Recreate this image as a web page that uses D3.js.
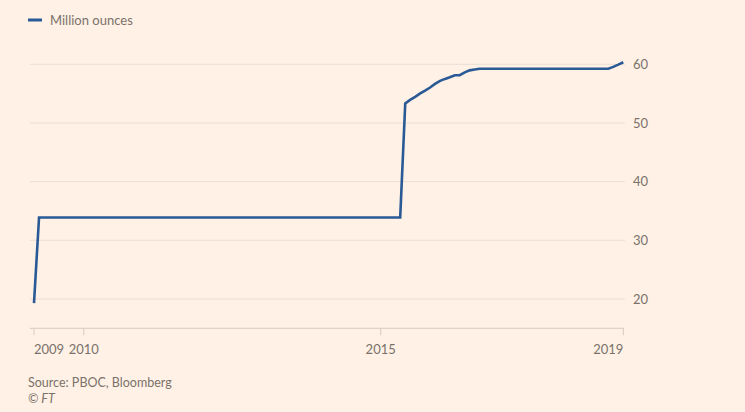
<!DOCTYPE html>
<html lang="en">
<head>
    <meta charset="UTF-8">
    <title>PBOC gold reserves</title>
    <script src="https://d3js.org/d3.v7.min.js"></script>
    <style>
        body { margin: 0; background: #fff1e5; }
        svg { display: block; }
        text { font-family: Lato, sans-serif; fill: #7a716b; }
        .grid line { stroke: #eadfd5; stroke-width: 1px; }
        .xaxis line { stroke: #d8ccc1; stroke-width: 1px; }
        .series { fill: none; stroke: #2a5a96; stroke-width: 2.6px; stroke-linejoin: miter; }
    </style>
</head>
<body>
    <div id="chart"></div>

    <script>
        // monthly points where the reserve changed (flat stretches only by their ends)
        const months = ["2009-03", "2009-04", "2015-05", "2015-06", "2015-07", "2015-08", "2015-09",
            "2015-10", "2015-11", "2015-12", "2016-01", "2016-02", "2016-03", "2016-04", "2016-05",
            "2016-06", "2016-07", "2016-08", "2016-09", "2018-11", "2018-12", "2019-01", "2019-02"];
        const ounces = [19.29, 33.89, 33.89, 53.31, 53.93, 54.45, 55.05,
            55.50, 56.05, 56.66, 57.18, 57.51, 57.78, 58.14, 58.14,
            58.62, 58.97, 59.10, 59.24, 59.24, 59.56, 59.94, 60.35];

        const yTicks = [20, 30, 40, 50, 60];
        const xTickMonths = ["2009-03", "2010-01", "2015-01", "2019-02"];
        const xTickLabels = ["2009", "2010", "2015", "2019"];

        const width = 745, height = 412;
        const parse = d3.utcParse("%Y-%m");
        const data = months.map((m, i) => ({ date: parse(m), value: ounces[i] }));

        const x = d3.scaleUtc()
            .domain(d3.extent(data, d => d.date))
            .range([34, 623.3]);
        const y = d3.scaleLinear()
            .domain([15, 60])
            .range([328.3, 64.3]);

        const svg = d3.select("#chart")
            .append("svg")
            .attr("width", width)
            .attr("height", height);

        // legend
        svg.append("line")
            .attr("x1", 28).attr("x2", 42)
            .attr("y1", 20).attr("y2", 20)
            .attr("stroke", "#2a5a96")
            .attr("stroke-width", 3);
        svg.append("text")
            .attr("x", 50).attr("y", 24.5)
            .style("font-size", "13px")
            .text("Million ounces");

        // horizontal grid + right labels
        const grid = svg.append("g").attr("class", "grid");
        grid.selectAll("line")
            .data(yTicks)
            .enter().append("line")
            .attr("x1", 30).attr("x2", 625)
            .attr("y1", d => y(d)).attr("y2", d => y(d));
        grid.selectAll("text")
            .data(yTicks)
            .enter().append("text")
            .attr("x", 633)
            .attr("y", d => y(d))
            .attr("dy", "0.35em")
            .style("font-size", "13px")
            .text(d => d);

        // x axis
        const xa = svg.append("g").attr("class", "xaxis");
        xa.append("line")
            .attr("x1", 30).attr("x2", 624)
            .attr("y1", y(15)).attr("y2", y(15));
        const ticks = xa.selectAll("g")
            .data(xTickMonths)
            .enter().append("g")
            .attr("transform", d => `translate(${x(parse(d))},${y(15)})`);
        ticks.append("line").attr("y1", 0).attr("y2", 7);
        ticks.append("text")
            .attr("y", 26)
            .style("font-size", "13px")
            .style("text-anchor", (d, i) => i === 0 ? "start" : (i === xTickMonths.length - 1 ? "end" : "middle"))
            .text((d, i) => xTickLabels[i]);

        // series
        svg.append("path")
            .datum(data)
            .attr("class", "series")
            .attr("d", d3.line().x(d => x(d.date)).y(d => y(d.value)));

        // source
        svg.append("text")
            .attr("x", 28).attr("y", 387)
            .style("font-size", "12.5px")
            .text("Source: PBOC, Bloomberg");
        svg.append("text")
            .attr("x", 28).attr("y", 403)
            .style("font-size", "12.5px")
            .style("font-style", "italic")
            .text("© FT");
    </script>
</body>
</html>
